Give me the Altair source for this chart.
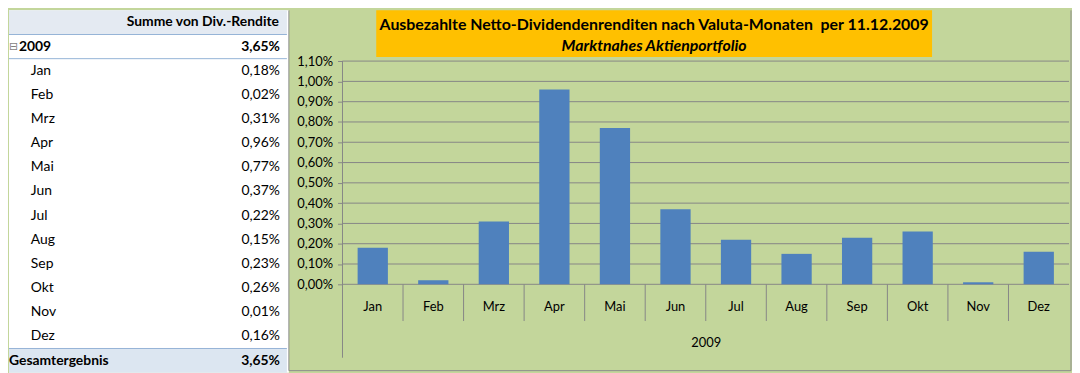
import altair as alt
import pandas as pd

# ---------------- data ----------------
months = ["Jan", "Feb", "Mrz", "Apr", "Mai", "Jun", "Jul", "Aug", "Sep", "Okt", "Nov", "Dez"]
yield_pct = [0.18, 0.02, 0.31, 0.96, 0.77, 0.37, 0.22, 0.15, 0.23, 0.26, 0.01, 0.16]
total_pct = 3.65
year = "2009"
y_ticks = [0.0, 0.1, 0.2, 0.3, 0.4, 0.5, 0.6, 0.7, 0.8, 0.9, 1.0, 1.1]
title_line1 = "Ausbezahlte Netto-Dividendenrenditen nach Valuta-Monaten\u00a0 per 11.12.2009"
title_line2 = "Marktnahes Aktienportfolio"
table_header = "Summe von Div.-Rendite"
total_label = "Gesamtergebnis"

# ---------------- styles ----------------
FONT = "Lato"
GREEN = "#C3D69B"
BAR = "#4F81BD"
GRID = "#868686"
ORANGE = "#FFC000"
TBL_BG = "#DCE6F1"
TBL_LINE = "#95B3D7"
TFS = 14  # table font size


def pct(v):
    return f"{v:.2f}".replace(".", ",") + "%"


one = pd.DataFrame({"a": [0]})

# ---------------- chart panel ----------------
df = pd.DataFrame({"Monat": months, "Rendite": yield_pct})
grid_df = pd.DataFrame({"Rendite": y_ticks})
bound_df = pd.DataFrame({"Monat": months[1:]})

yscale = alt.Scale(domain=[0, 1.35], nice=False, zero=True)
xscale = alt.Scale(domain=months, paddingInner=0, paddingOuter=0)

x_axis = alt.Axis(
    title=year,
    titleY=59,
    titleBaseline="middle",
    titleFont=FONT,
    titleFontSize=13,
    titleFontWeight="normal",
    titleColor="black",
    labelFont=FONT,
    labelFontSize=13,
    labelColor="black",
    labelPadding=22,
    labelBaseline="middle",
    labelAngle=0,
    ticks=False,
    tickSize=0,
    domain=False,
    grid=False,
)
y_axis = alt.Axis(
    title=None,
    values=y_ticks,
    labelExpr="replace(format(datum.value, '.2f'), '.', ',') + '%'",
    labelFont=FONT,
    labelFontSize=13,
    labelColor="black",
    labelPadding=5,
    tickSize=5,
    tickColor=GRID,
    domain=False,
    grid=False,
)

grid = alt.Chart(grid_df).mark_rule(color=GRID, strokeWidth=1).encode(
    y=alt.Y("Rendite:Q", scale=yscale, axis=y_axis)
)

bars = alt.Chart(df).mark_bar(color=BAR, width=alt.RelativeBandSize(0.5)).encode(
    x=alt.X("Monat:N", sort=months, scale=xscale, axis=x_axis),
    y=alt.Y("Rendite:Q", scale=yscale, axis=y_axis),
)

bounds = alt.Chart(bound_df).mark_rule(color=GRID).encode(
    x=alt.X("Monat:N", sort=months, scale=xscale, bandPosition=0, axis=x_axis),
    y=alt.value(276),
    y2=alt.value(313),
)

yline = alt.Chart(one).mark_rule(color=GRID).encode(
    x=alt.value(0), y=alt.value(51), y2=alt.value(350)
)

title_box = alt.Chart(one).mark_rect(color=ORANGE).encode(
    x=alt.value(34), x2=alt.value(594), y=alt.value(0), y2=alt.value(47)
)
t1 = alt.Chart(one).mark_text(
    font=FONT, fontSize=16, fontWeight="bold", align="center", baseline="middle", color="black"
).encode(x=alt.value(314), y=alt.value(15), text=alt.value(title_line1))
t2 = alt.Chart(one).mark_text(
    font=FONT, fontSize=16, fontWeight="bold", fontStyle="italic", align="center",
    baseline="middle", color="black"
).encode(x=alt.value(314), y=alt.value(36), text=alt.value(title_line2))

border_l = alt.Chart(one).mark_rule(color="#8C8C8C").encode(
    x=alt.value(-54), y=alt.value(0), y2=alt.value(363))
border_r = alt.Chart(one).mark_rule(color="#8C8C8C").encode(
    x=alt.value(734), y=alt.value(0), y2=alt.value(363))
border_b = alt.Chart(one).mark_rule(color="#8C8C8C").encode(
    x=alt.value(-54), x2=alt.value(734), y=alt.value(363))

chart_panel = alt.layer(
    grid, bars, bounds, yline, title_box, t1, t2, border_l, border_r, border_b
).properties(width=732, height=276)

# ---------------- pivot table ----------------
n_rows = len(months) + 3
tscale = alt.Scale(domain=list(range(n_rows)), paddingInner=0, paddingOuter=0)

white = alt.Chart(one).mark_rect(color="white").encode(
    x=alt.value(0), x2=alt.value(282), y=alt.value(0), y2=alt.value(365)
)

bg_df = pd.DataFrame({"idx": [0, n_rows - 1], "fill": ["#E4EAF2", TBL_BG]})
bg = alt.Chart(bg_df).mark_rect().encode(
    y=alt.Y("idx:O", scale=tscale, axis=None),
    x=alt.value(0), x2=alt.value(280),
    color=alt.Color("fill:N", scale=None),
)

line_df = pd.DataFrame({"idx": [1, 2, n_rows - 1]})
lines = alt.Chart(line_df).mark_rule(color=TBL_LINE).encode(
    y=alt.Y("idx:O", scale=tscale, axis=None, bandPosition=0),
    x=alt.value(0), x2=alt.value(280),
)

hdr = alt.Chart(pd.DataFrame({"idx": [0], "t": [table_header]})).mark_text(
    font=FONT, fontSize=TFS, fontWeight="bold", align="right", color="black"
).encode(y=alt.Y("idx:O", scale=tscale, axis=None), x=alt.value(272), text="t:N")

icon = alt.Chart(pd.DataFrame({"idx": [1], "t": ["\u229f"]})).mark_text(
    font="DejaVu Sans", fontSize=11, align="left", color="#7F7F7F"
).encode(y=alt.Y("idx:O", scale=tscale, axis=None), x=alt.value(0), text="t:N")

bold_df = pd.DataFrame({"idx": [1, n_rows - 1], "t": [year, total_label],
                        "v": [pct(total_pct), pct(total_pct)]})
bold_lbl_year = alt.Chart(bold_df.iloc[[0]]).mark_text(
    font=FONT, fontSize=TFS, fontWeight="bold", align="left", color="black"
).encode(y=alt.Y("idx:O", scale=tscale, axis=None), x=alt.value(10), text="t:N")
bold_lbl_tot = alt.Chart(bold_df.iloc[[1]]).mark_text(
    font=FONT, fontSize=TFS, fontWeight="bold", align="left", color="black"
).encode(y=alt.Y("idx:O", scale=tscale, axis=None), x=alt.value(0), text="t:N")
bold_val = alt.Chart(bold_df).mark_text(
    font=FONT, fontSize=TFS, fontWeight="bold", align="right", color="black"
).encode(y=alt.Y("idx:O", scale=tscale, axis=None), x=alt.value(273), text="v:N")

mon_df = pd.DataFrame({
    "idx": list(range(2, 2 + len(months))),
    "t": months,
    "v": [pct(v) for v in yield_pct],
})
mon_lbl = alt.Chart(mon_df).mark_text(
    font=FONT, fontSize=TFS, align="left", color="black"
).encode(y=alt.Y("idx:O", scale=tscale, axis=None), x=alt.value(22), text="t:N")
mon_val = alt.Chart(mon_df).mark_text(
    font=FONT, fontSize=TFS, align="right", color="black"
).encode(y=alt.Y("idx:O", scale=tscale, axis=None), x=alt.value(273), text="v:N")

table = alt.layer(
    white, bg, lines, hdr, icon, bold_lbl_year, bold_lbl_tot, bold_val, mon_lbl, mon_val
).properties(width=280, height=365)

chart = alt.hconcat(table, chart_panel, spacing=56, bounds="flush").properties(
    padding=0, background=GREEN
).configure_view(stroke="transparent")

chart.save("out.html", embed_options={"renderer": "svg", "actions": False})
